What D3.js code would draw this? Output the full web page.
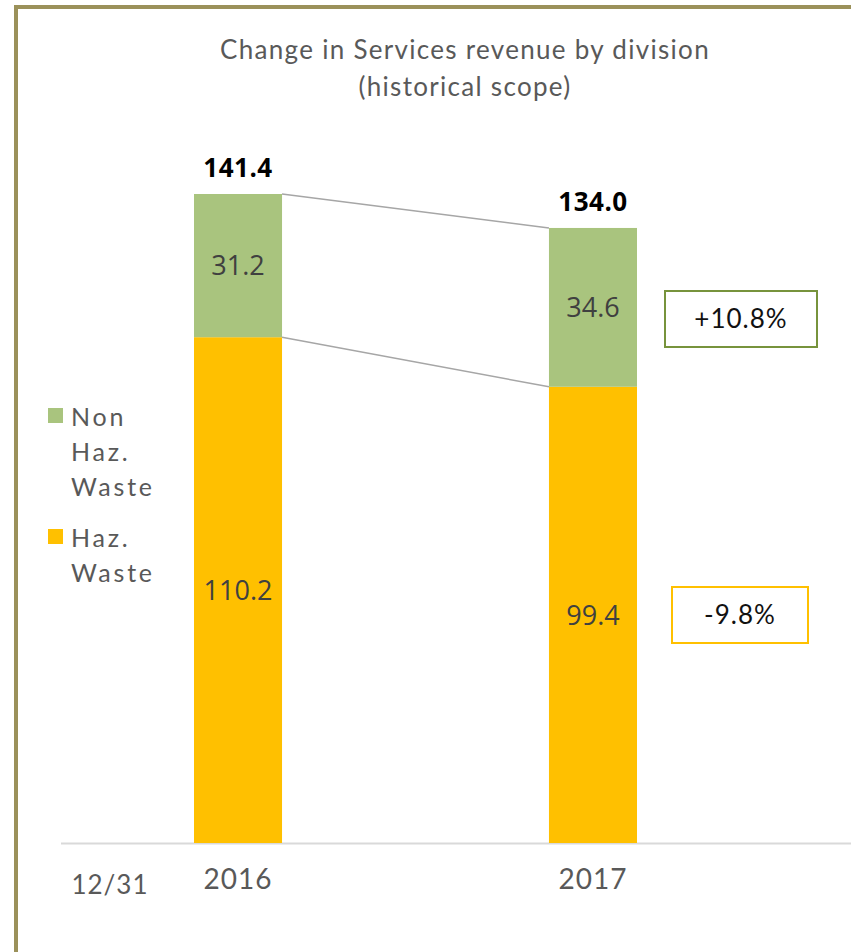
<!DOCTYPE html>
<html>
<head>
<meta charset="utf-8">
<script src="https://cdn.jsdelivr.net/npm/d3@7"></script>
<style>
  html, body { margin: 0; padding: 0; background: #fff; }
  svg { display: block; }
</style>
</head>
<body>
<svg id="chart" width="851" height="952"></svg>
<script>
// Service revenue by division, year-end figures
const years = ["2016", "2017"];
const hazWaste = [110.2, 99.4];
const nonHazWaste = [31.2, 34.6];
const totals = [141.4, 134.0];
const changes = [
  { label: "+10.8%", series: "nonhaz" },
  { label: "-9.8%", series: "haz" }
];
const seriesNames = { nonhaz: ["Non", "Haz.", "Waste"], haz: ["Haz.", "Waste"] };
const colors = { nonhaz: "#a9c47e", haz: "#ffc000", nonhazBox: "#77933c" };

const svg = d3.select("#chart");
const W = 851, H = 952;
const fontMain = "'Lato', 'Open Sans', sans-serif";
const fontNum = "'Open Sans', 'Noto Sans', sans-serif";

// Frame
svg.append("rect")
  .attr("x", 16).attr("y", 7).attr("width", W + 10).attr("height", H + 10)
  .attr("fill", "none").attr("stroke", "#9b915a").attr("stroke-width", 4);

// Title
const title = svg.append("text")
  .attr("text-anchor", "middle")
  .attr("font-family", fontMain).attr("font-size", 26).attr("letter-spacing", 1.3)
  .attr("fill", "#595959");
title.append("tspan").attr("x", 465).attr("y", 59).text("Change in Services revenue by division");
title.append("tspan").attr("x", 465).attr("y", 96).text("(historical scope)");

// Scales
const baseY = 843;
const y = d3.scaleLinear().domain([0, 141.4]).range([baseY, 194]);
const x = d3.scaleBand().domain(years).range([194, 637]).paddingInner(0.752).paddingOuter(0);

// Axis baseline
svg.append("line")
  .attr("x1", 61).attr("x2", W).attr("y1", baseY + 0.5).attr("y2", baseY + 0.5)
  .attr("stroke", "#d9d9d9").attr("stroke-width", 2);

// Stacked data
const stackData = years.map((yr, i) => ({ year: yr, haz: hazWaste[i], nonhaz: nonHazWaste[i] }));
const stack = d3.stack().keys(["haz", "nonhaz"])(stackData);

// Connector lines between bar segments
[0, 1].forEach(k => {
  const layer = stack[k];
  svg.append("line")
    .attr("x1", x(years[0]) + x.bandwidth()).attr("y1", y(layer[0][1]))
    .attr("x2", x(years[1])).attr("y2", y(layer[1][1]))
    .attr("stroke", "#a6a6a6").attr("stroke-width", 1.5);
});

// Bars
stack.forEach(layer => {
  const g = svg.append("g");
  g.selectAll("rect").data(layer).join("rect")
    .attr("x", d => x(d.data.year))
    .attr("y", d => y(d[1]))
    .attr("width", x.bandwidth())
    .attr("height", d => y(d[0]) - y(d[1]))
    .attr("fill", colors[layer.key]);
  g.selectAll("text").data(layer).join("text")
    .attr("x", d => x(d.data.year) + x.bandwidth() / 2)
    .attr("y", d => (y(d[0]) + y(d[1])) / 2)
    .attr("dy", "0.36em")
    .attr("text-anchor", "middle")
    .attr("font-family", fontNum).attr("font-size", 27).attr("fill", "#404040")
    .text(d => d.data[layer.key].toFixed(1));
});

// Totals
svg.selectAll("text.total").data(years).join("text")
  .attr("class", "total")
  .attr("x", d => x(d) + x.bandwidth() / 2)
  .attr("y", (d, i) => y(totals[i]) - 17)
  .attr("text-anchor", "middle")
  .attr("font-family", fontNum).attr("font-size", 26).attr("font-weight", "bold")
  .attr("letter-spacing", 0.5).attr("fill", "#000")
  .text((d, i) => totals[i].toFixed(1));

// Category labels
svg.selectAll("text.cat").data(years).join("text")
  .attr("class", "cat")
  .attr("x", d => x(d) + x.bandwidth() / 2)
  .attr("y", 889)
  .attr("text-anchor", "middle")
  .attr("font-family", fontMain).attr("font-size", 28).attr("letter-spacing", 1)
  .attr("fill", "#595959")
  .text(d => d);
svg.append("text")
  .attr("x", 110).attr("y", 894)
  .attr("text-anchor", "middle")
  .attr("font-family", fontMain).attr("font-size", 26).attr("letter-spacing", 1)
  .attr("fill", "#595959")
  .text("12/31");

// Legend
const legend = [
  { key: "nonhaz", y: 408 },
  { key: "haz", y: 529 }
];
legend.forEach(l => {
  svg.append("rect").attr("x", 48).attr("y", l.y).attr("width", 15).attr("height", 15)
    .attr("fill", colors[l.key]);
  const t = svg.append("text")
    .attr("font-family", fontMain).attr("font-size", 25).attr("letter-spacing", 2.8)
    .attr("fill", "#595959");
  seriesNames[l.key].forEach((line, i) => {
    t.append("tspan").attr("x", 71).attr("y", l.y + 18 + i * 35).text(line);
  });
});

// Change boxes, placed beside the 2017 segments
const boxes = [
  { c: changes[0], x: 665, y: 291, w: 152, h: 56, stroke: colors.nonhazBox },
  { c: changes[1], x: 672, y: 587, w: 136, h: 56, stroke: colors.haz }
];
boxes.forEach(b => {
  svg.append("rect").attr("x", b.x).attr("y", b.y).attr("width", b.w).attr("height", b.h)
    .attr("fill", "#fff").attr("stroke", b.stroke).attr("stroke-width", 2);
  svg.append("text")
    .attr("x", b.x + b.w / 2).attr("y", b.y + b.h / 2).attr("dy", "0.36em")
    .attr("text-anchor", "middle")
    .attr("font-family", fontMain).attr("font-size", 26).attr("letter-spacing", 1)
    .attr("fill", "#111")
    .text(b.c.label);
});
</script>
</body>
</html>
